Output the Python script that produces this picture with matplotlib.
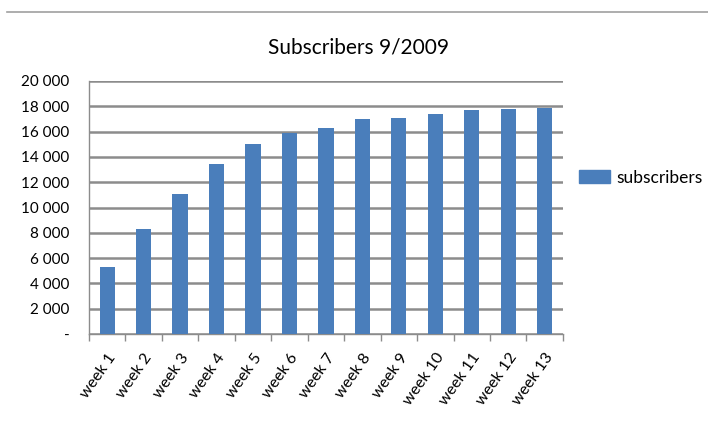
import matplotlib
matplotlib.use('Agg')
import matplotlib.pyplot as plt
import matplotlib.patches as mpatches
from matplotlib.ticker import FuncFormatter
import numpy as np

plt.rcParams['font.family'] = ['Lato', 'DejaVu Sans']

# Weekly subscriber counts
weeks = [f'week {i}' for i in range(1, 14)]
subscribers = [5320, 8270, 11040, 13410, 15020, 15910, 16260,
               16970, 17100, 17420, 17710, 17760, 17840]
y_ticks = list(range(0, 20001, 2000))

bar_color = '#4a7ebb'
grid_color = '#8c8c8c'

fig = plt.figure(figsize=(7.08, 4.44), dpi=100)
ax = fig.add_axes([0.1257, 0.2477, 0.6693, 0.5699])

x = np.arange(len(weeks))
ax.bar(x, subscribers, width=0.42, color=bar_color, zorder=3)

ax.set_xlim(-0.5, len(weeks) - 0.5)
ax.set_ylim(0, 20000)
ax.set_yticks(y_ticks)


def fmt(v, pos):
    if v == 0:
        return '-'
    return f'{int(v):,}'.replace(',', ' ')


ax.yaxis.set_major_formatter(FuncFormatter(fmt))
ax.grid(axis='y', color=grid_color, linewidth=1.8, zorder=0)

# category labels on centres, tick marks between categories
ax.set_xticks(x)
ax.set_xticklabels(weeks, rotation=55, ha='right', rotation_mode='anchor',
                   fontsize=11.5)
ax.tick_params(axis='x', length=0, pad=12)
ax.set_xticks(np.arange(-0.5, len(weeks)), minor=True)
ax.tick_params(axis='x', which='minor', length=5, color=grid_color, width=1)
ax.tick_params(axis='y', length=0, labelsize=11, pad=14)

for side in ['top', 'right']:
    ax.spines[side].set_visible(False)
ax.spines['left'].set_color(grid_color)
ax.spines['bottom'].set_color(grid_color)
ax.spines['left'].set_linewidth(1)
ax.spines['bottom'].set_linewidth(1)

fig.text(0.506, 0.893, 'Subscribers 9/2009', ha='center', va='center',
         fontsize=15)

# separator line at the top
fig.add_artist(plt.Line2D([0.01, 1.0], [0.973, 0.973], color='#a0a0a0',
                          linewidth=1.2))

handle = mpatches.Patch(color=bar_color, label='subscribers')
fig.legend(handles=[handle], loc='center left', bbox_to_anchor=(0.818, 0.6),
           frameon=False, fontsize=12.5, handlelength=1.75, handleheight=0.75,
           handletextpad=0.4, borderaxespad=0, borderpad=0)

plt.savefig('out.png', dpi=100)
